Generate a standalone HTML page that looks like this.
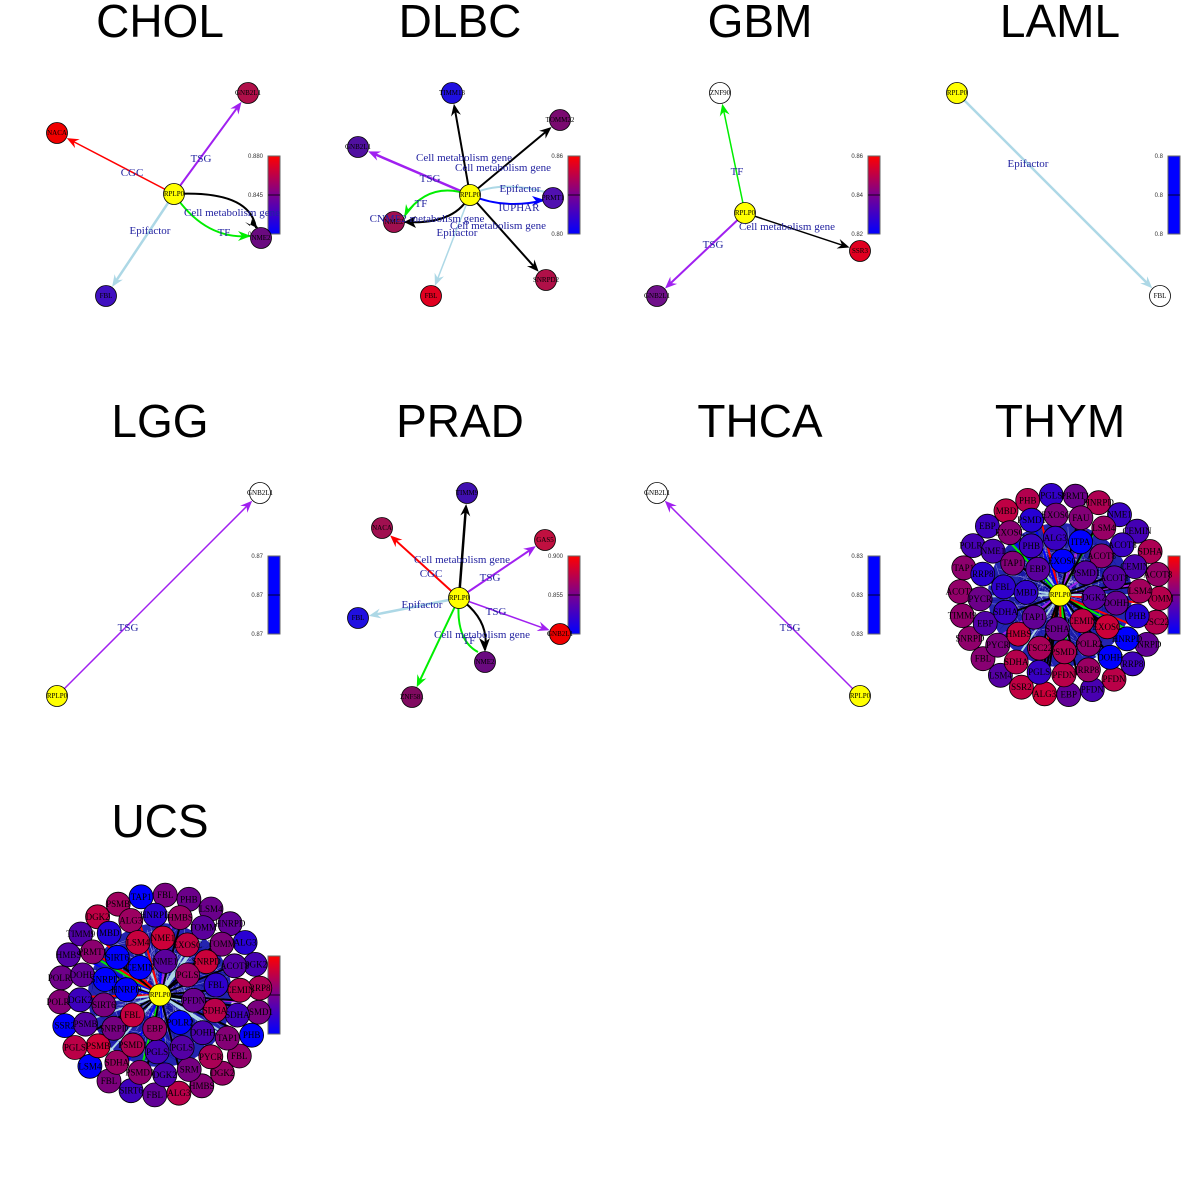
<!DOCTYPE html>
<html><head><meta charset="utf-8"><style>
html,body{margin:0;padding:0;background:#fff}
svg{display:block}
.t{font-family:"Liberation Sans",sans-serif;font-size:46px;text-anchor:middle}
.n{font-family:"Liberation Serif",serif;font-size:7px;text-anchor:middle;dominant-baseline:central}
.d{font-family:"Liberation Serif",serif;font-size:9px;text-anchor:middle;dominant-baseline:central}
.e{font-family:"Liberation Serif",serif;font-size:11px;fill:#2222a0;text-anchor:middle}
.c{font-family:"Liberation Sans",sans-serif;font-size:6px;fill:#333;text-anchor:end}
</style></head><body>
<svg id="s" width="1200" height="1200" xmlns="http://www.w3.org/2000/svg">
<defs>
<linearGradient id="g" x1="0" y1="1" x2="0" y2="0"><stop offset="0" stop-color="#0000ff"/><stop offset="0.5" stop-color="#7a0090"/><stop offset="1" stop-color="#ff0000"/></linearGradient>
</defs>
<g id="root"></g>
</svg>
<script>
var R=document.getElementById('root'),out='';
function add(s){out+=s;}
function title(x,y,t){add('<text class="t" x="'+x+'" y="'+y+'">'+t+'</text>');}
function node(x,y,c,l,r,cls){r=r||10.5;add('<circle cx="'+x+'" cy="'+y+'" r="'+r+'" fill="'+c+'" stroke="#000" stroke-width="0.8"/>');if(l)add('<text class="'+(cls||'n')+'" x="'+x+'" y="'+y+'">'+l+'</text>');}
function edge(x1,y1,x2,y2,c,w,arrow){var dx=x2-x1,dy=y2-y1,L=Math.sqrt(dx*dx+dy*dy),ux=dx/L,uy=dy/L;var ex=x2-ux*11,ey=y2-uy*11;
 add('<line x1="'+x1+'" y1="'+y1+'" x2="'+(ex-ux*6)+'" y2="'+(ey-uy*6)+'" stroke="'+c+'" stroke-width="'+(w||2)+'"/>');
 if(arrow!==false){var bx=ex-ux*12,by=ey-uy*12,px=-uy*5,py=ux*5;add('<polygon points="'+ex+','+ey+' '+(bx+px)+','+(by+py)+' '+(ex-ux*8)+','+(ey-uy*8)+' '+(bx-px)+','+(by-py)+'" fill="'+c+'"/>');}}
function curve(x1,y1,cx,cy,x2,y2,c){add('<path d="M'+x1+','+y1+' Q'+cx+','+cy+' '+x2+','+y2+'" fill="none" stroke="'+c+'" stroke-width="2"/>');}
function lab(x,y,t){add('<text class="e" x="'+x+'" y="'+y+'">'+t+'</text>');}
function cbar(px,py,fill,labels){add('<rect x="'+(px+268)+'" y="'+(py+156)+'" width="12" height="78" fill="'+fill+'" stroke="#666" stroke-width="1"/>');
 add('<line x1="'+(px+268)+'" y1="'+(py+195)+'" x2="'+(px+280)+'" y2="'+(py+195)+'" stroke="#000" stroke-width="0.8"/>');
 if(labels){add('<text class="c" x="'+(px+263)+'" y="'+(py+158)+'">'+labels[0]+'</text><text class="c" x="'+(px+263)+'" y="'+(py+197)+'">'+labels[1]+'</text><text class="c" x="'+(px+263)+'" y="'+(py+236)+'">'+labels[2]+'</text>');}}
var Y='#ffff00';
title(160,37,'CHOL');title(460,37,'DLBC');title(760,37,'GBM');title(1060,37,'LAML');
title(160,437,'LGG');title(460,437,'PRAD');title(760,437,'THCA');title(1060,437,'THYM');title(160,837,'UCS');
// CHOL
edge(174,194,57,133,'#ff0000',1.5);edge(174,194,248,93,'#a020f0',2);edge(174,194,106,296,'#add8e6',2.5);
curve(174,194,250,190,256,228,'#000');add('<polygon points="259,229 245,222 250,226 252,219" fill="#000"/>');
curve(174,194,205,240,250,236,'#00ee00');add('<polygon points="251,236 238,231 242,236 238,241" fill="#00ee00"/>');
cbar(0,0,'url(#g)',['0.880','0.845','0.810']);
node(57,133,'#f00000','NACA');node(248,93,'#b0104a','GNB2L1');node(261,238,'#6a0a80','NME2');node(106,296,'#4010c0','FBL');node(174,194,Y,'RPLP0');
lab(132,176,'CGC');lab(201,162,'TSG');lab(232,216,'Cell metabolism gene');lab(224,236,'TF');lab(150,234,'Epifactor');
// DLBC
edge(470,195,452,93,'#000',2);edge(470,195,560,120,'#000',2);edge(470,195,358,147,'#a020f0',2.5);edge(470,195,546,280,'#000',2);edge(470,195,431,296,'#add8e6',1.5);
curve(470,195,500,180,545,192,'#add8e6');curve(470,195,505,210,545,200,'#0000ff');add('<polygon points="545,200 532,196 536,201 532,206" fill="#0000ff"/>');
curve(470,195,430,180,405,215,'#00ee00');add('<polygon points="404,218 406,204 408,209 414,206" fill="#00ee00"/>');
curve(470,195,455,225,405,222,'#000');add('<polygon points="404,222 416,216 413,222 416,228" fill="#000"/>');
cbar(300,0,'url(#g)',['0.86','0.83','0.80']);
node(452,93,'#2010e0','TIMM13');node(560,120,'#7a0a70','TOMM22');node(358,147,'#5010a0','GNB2L1');node(553,198,'#5010b0','PRMT1');node(394,222,'#a01050','NME2');node(431,296,'#e00020','FBL');node(546,280,'#b01048','SNRPD2');node(470,195,Y,'RPLP0');
lab(464,161,'Cell metabolism gene');lab(503,171,'Cell metabolism gene');lab(430,182,'TSG');lab(520,192,'Epifactor');lab(519,211,'IUPHAR');lab(421,207,'TF');lab(427,222,'CNME2 metabolism gene');lab(457,236,'Epifactor');lab(498,229,'Cell metabolism gene');
// GBM
edge(745,213,720,93,'#00ee00',1.5);edge(745,213,860,251,'#000',1.5);edge(745,213,657,296,'#a020f0',2);
cbar(600,0,'url(#g)',['0.86','0.84','0.82']);
node(720,93,'#fff','ZNF90');node(860,251,'#e00020','SSR3');node(657,296,'#70108a','GNB2L1');node(745,213,Y,'RPLP0');
lab(737,175,'TF');lab(713,248,'TSG');lab(787,230,'Cell metabolism gene');
// LAML
edge(957,93,1160,296,'#add8e6',2.5);cbar(900,0,'#0000ff',['0.8','0.8','0.8']);
node(957,93,Y,'RPLP0');node(1160,296,'#fff','FBL');lab(1028,167,'Epifactor');
// LGG
edge(57,696,260,493,'#a020f0',1.5);cbar(0,400,'#0000ff',['0.87','0.87','0.87']);
node(57,696,Y,'RPLP0');node(260,493,'#fff','GNB2L1');lab(128,631,'TSG');
// PRAD
edge(459,598,467,493,'#000',2.5);edge(459,598,382,528,'#ff0000',2);edge(459,598,545,540,'#a020f0',2);edge(459,598,358,618,'#add8e6',2.5);edge(459,598,560,634,'#a020f0',1.5);edge(459,598,412,697,'#00ee00',2);
curve(459,598,455,640,478,652,'#00ee00');curve(459,598,490,620,485,650,'#000');add('<polygon points="485,652 479,638 485,642 490,638" fill="#000"/>');
cbar(300,400,'url(#g)',['0.900','0.855','0.810']);
node(467,493,'#4010b0','TIMM9');node(382,528,'#a01050','NACA');node(545,540,'#c01040','GAS5');node(358,618,'#2010e0','FBL');node(560,634,'#f00000','GNB2L1');node(485,662,'#6a0a80','NME2');node(412,697,'#800a60','ZNF581');node(459,598,Y,'RPLP0');
lab(462,563,'Cell metabolism gene');lab(431,577,'CGC');lab(490,581,'TSG');lab(422,608,'Epifactor');lab(496,615,'TSG');lab(482,638,'Cell metabolism gene');lab(469,644,'TF');
// THCA
edge(860,696,657,493,'#a020f0',1.5);cbar(600,400,'#0000ff',['0.83','0.83','0.83']);
node(657,493,'#fff','GNB2L1');node(860,696,Y,'RPLP0');lab(790,631,'TSG');
// dense
var seed=7;function rnd(){seed=(seed*16807)%2147483647;return seed/2147483647;}
var names=['PSMD1','HMBS','NME1','EXOSC','SIRT6','PRMT1','SSR2','FAU','TIMM9','GNB2L1','POLR2','NANS','SNRPD','ALG3','PHB','TSC22','DGK2','PYCR','ITPA','SRM','TOMM','MBD','FBL','PGLS','EBP','ACOT8','CEMIN','TAP1','PFDN','LSM4','HNRPD','SDHA','PSMB','RRP8','DOHH'];
function col(){var t=rnd();t=0.15+t*0.75;if(rnd()<0.12)t=0;var r,b;if(t<0.5){r=Math.round(t*2*110);b=255-Math.round(t*2*120);}else{r=110+Math.round((t-0.5)*2*120);b=135-Math.round((t-0.5)*2*100);}return 'rgb('+r+',0,'+b+')';}
function dense(cx,cy,px,py){
 add('<circle cx="'+cx+'" cy="'+cy+'" r="72" fill="#2424b0"/>');
 for(var i=0;i<300;i++){var a=rnd()*6.283,r1=rnd()*72,b=rnd()*6.283,r2=rnd()*72;add('<line x1="'+(cx+Math.cos(a)*r1)+'" y1="'+(cy+Math.sin(a)*r1)+'" x2="'+(cx+Math.cos(b)*r2)+'" y2="'+(cy+Math.sin(b)*r2)+'" stroke="'+(rnd()<0.4?'#ffffff':'#00008b')+'" stroke-width="0.5" opacity="0.5"/>');}
 for(var i=0;i<40;i++){var a=rnd()*6.283;var cc=['#000','#000','#000','#000','#add8e6','#add8e6','#00ee00','#ff0000','#a020f0','#0000ff'][Math.floor(rnd()*10)];add('<line x1="'+cx+'" y1="'+cy+'" x2="'+(cx+Math.cos(a)*82)+'" y2="'+(cy+Math.sin(a)*82)+'" stroke="'+cc+'" stroke-width="2"/>');}
 cbar(px,py,'url(#g)',null);
 var rings=[[100,26],[80,20],[57,14],[34,8]];
 for(var k=0;k<rings.length;k++){var rr=rings[k][0],n=rings[k][1],o=rnd();for(var j=0;j<n;j++){var a=o+j*6.283/n;node((cx+Math.cos(a)*rr).toFixed(1),(cy+Math.sin(a)*rr).toFixed(1),col(),names[Math.floor(rnd()*names.length)],12,'d');}}
 node(cx,cy,Y,'RPLP0',11,'n');}
dense(1060,595,900,400);dense(160,995,0,800);
R.innerHTML=out;
</script>
</body></html>
